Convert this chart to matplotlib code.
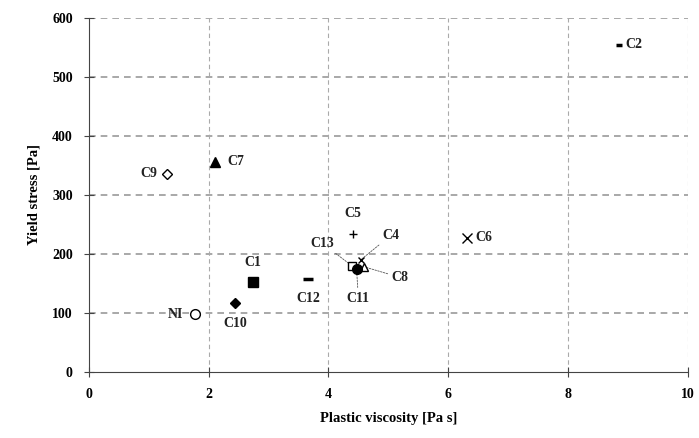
import matplotlib.pyplot as plt

plt.rcParams['font.family'] = ['Liberation Serif', 'DejaVu Serif']
plt.rcParams['font.weight'] = 'bold'

names = ['C1', 'C2', 'C4', 'C5', 'C6', 'C7', 'C8', 'C9', 'C10', 'C12', 'C13', 'NI', 'C11']
viscosity = [2.74, 8.85, 4.54, 4.41, 6.31, 2.10, 4.60, 1.30, 2.44, 3.66, 4.39, 1.77, 4.47]
yield_stress = [152, 555, 190, 234, 227, 356, 178, 336, 117, 158, 180, 98, 175]

# marker style per mix: (marker, filled)
styles = {
    'C1': ('s', True), 'C2': ('_', True), 'C4': ('x', True), 'C5': ('+', True),
    'C6': ('x', True), 'C7': ('^', True), 'C8': ('^', False), 'C9': ('D', False),
    'C10': ('D', True), 'C11': ('o', True), 'C12': ('_', True), 'C13': ('s', False),
    'NI': ('o', False),
}
sizes = {'C1': 7, 'C2': 5, 'C4': 5, 'C5': 6, 'C6': 7, 'C7': 7, 'C8': 6, 'C9': 5,
         'C10': 5, 'C11': 7, 'C12': 7, 'C13': 6, 'NI': 7}

# label positions in data units, leader line if needed
labels = {
    'C1': (2.74, 186, False), 'C2': (9.1, 555, False), 'C4': (5.05, 232, True),
    'C5': (4.41, 268, False), 'C6': (6.6, 227, False), 'C7': (2.45, 356, False),
    'C8': (5.2, 160, True), 'C9': (1.0, 336, False), 'C10': (2.44, 82, False),
    'C11': (4.5, 125, True), 'C12': (3.66, 125, False), 'C13': (3.9, 218, True),
    'NI': (1.45, 98, False),
}

fig = plt.figure(figsize=(6.99, 4.38), dpi=100)
ax = fig.add_axes([0.127, 0.151, 0.857, 0.808])

for i, (n, x, y) in enumerate(zip(names, viscosity, yield_stress)):
    m, filled = styles[n]
    ax.plot(x, y, marker=m, markersize=sizes[n], color='black',
            markerfacecolor='black' if filled else 'white',
            markeredgewidth=1.0 if m != '_' else 2.5,
            linestyle='none', zorder=3 + i * 0.01)
    lx, ly, lead = labels[n]
    if lead:
        ax.annotate(n, xy=(x, y), xytext=(lx, ly), ha='center', va='center',
                    fontsize=10, fontweight='bold', color='#222222',
                    arrowprops=dict(arrowstyle='-', color='#555555', lw=0.6,
                                    linestyle=(0, (2, 1.5)), shrinkA=1, shrinkB=0))
    else:
        ax.text(lx, ly, n, ha='center', va='center', fontsize=10,
                fontweight='bold', color='#222222')

ax.set_xlim(0, 10)
ax.set_ylim(0, 600)
ax.set_xticks([0, 2, 4, 6, 8, 10])
ax.set_yticks([0, 100, 200, 300, 400, 500, 600])
for y in [100, 200, 300, 400, 500, 600]:
    ax.axhline(y, color='#999999', lw=1.2, linestyle=(0, (4, 3)), zorder=1)
for x in [2, 4, 6, 8, 10]:
    ax.axvline(x, color='#aaaaaa', lw=0.8, linestyle=(0, (4, 3)), zorder=1)

for s in ['top', 'right']:
    ax.spines[s].set_visible(False)
ax.spines['left'].set_color('#444444')
ax.spines['bottom'].set_color('#444444')
ax.tick_params(direction='inout', length=7, color='#444444', labelsize=10, pad=8)
for lbl in ax.get_xticklabels() + ax.get_yticklabels():
    lbl.set_fontweight('bold')

ax.set_xlabel('Plastic viscosity [Pa s]', fontsize=10.5, fontweight='bold', labelpad=8)
ax.set_ylabel('Yield stress [Pa]', fontsize=10.5, fontweight='bold', labelpad=8)

fig.savefig('out.png', dpi=100)
